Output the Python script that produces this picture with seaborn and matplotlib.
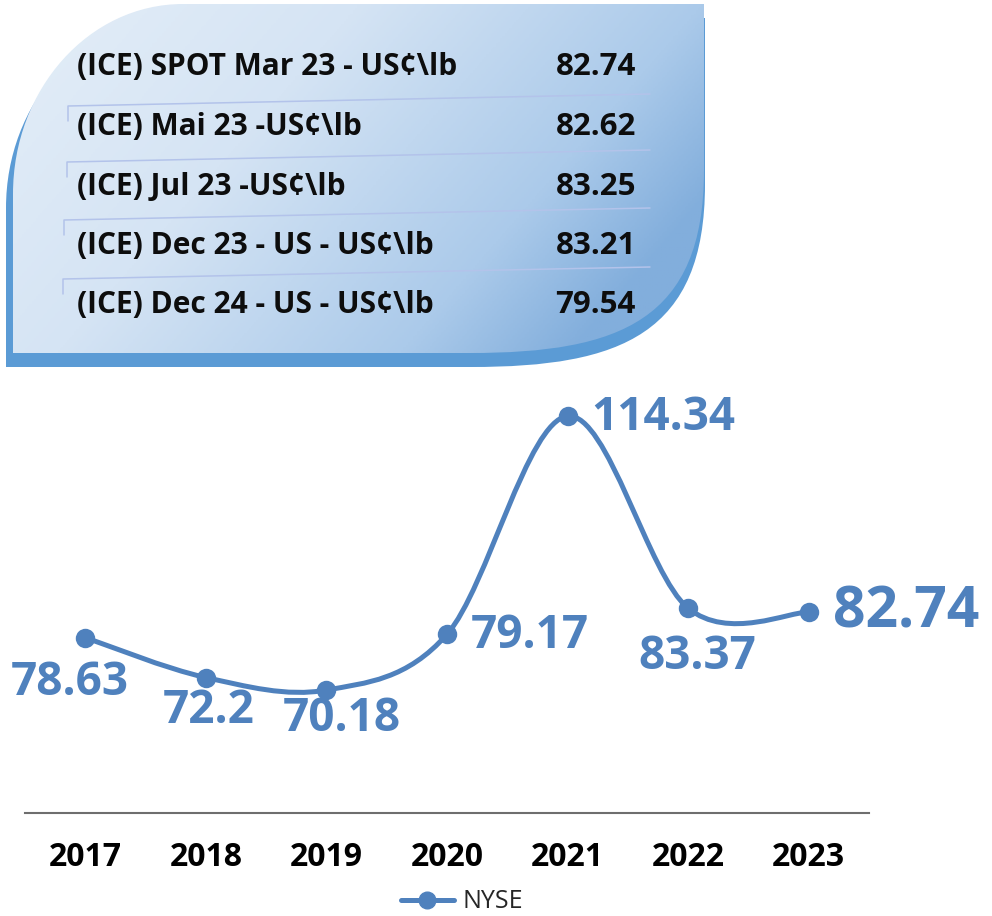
import numpy as np
import pandas as pd
import matplotlib
matplotlib.use("Agg")
import matplotlib.pyplot as plt
import seaborn as sns
from matplotlib.path import Path
from matplotlib.patches import PathPatch
from matplotlib.lines import Line2D
from matplotlib.colors import LinearSegmentedColormap

# --- data ---
years = ["2017", "2018", "2019", "2020", "2021", "2022", "2023"]
nyse = [78.63, 72.2, 70.18, 79.17, 114.34, 83.37, 82.74]
contracts = [
    "(ICE) SPOT Mar 23 - US¢\\lb",
    "(ICE) Mai 23 -US¢\\lb",
    "(ICE) Jul 23 -US¢\\lb",
    "(ICE) Dec 23 - US - US¢\\lb",
    "(ICE) Dec 24 - US - US¢\\lb",
]
contract_prices = ["82.74", "82.62", "83.25", "83.21", "79.54"]

W, H = 992, 916
BLUE = "#4f81bd"

sns.set_theme(style="white")
plt.rcParams["font.family"] = ["Open Sans", "DejaVu Sans"]

fig = plt.figure(figsize=(W / 100, H / 100), dpi=100)

# background axes in pixel coords (y down) for the top panel
bg = fig.add_axes([0, 0, 1, 1])
bg.set_xlim(0, W)
bg.set_ylim(H, 0)
bg.axis("off")


def panel_path(l, t, r, b):
    k = 0.5523
    rx, ry = 170, 190
    verts = [(l, b), (l, t + ry),
             (l, t + ry - k * ry), (l + rx - k * rx, t), (l + rx, t),
             (r, t), (r, b - 183),
             (r, b - 33), (r - 84, b), (r - 234, b),
             (l, b), (l, b)]
    codes = [Path.MOVETO, Path.LINETO,
             Path.CURVE4, Path.CURVE4, Path.CURVE4,
             Path.LINETO, Path.LINETO,
             Path.CURVE4, Path.CURVE4, Path.CURVE4,
             Path.LINETO, Path.CLOSEPOLY]
    return Path(verts, codes)


# shadow
bg.add_patch(PathPatch(panel_path(6, 18, 705, 367), facecolor="#5b9bd5", edgecolor="none"))

# main panel with gradient
l, t, r, b = 13, 4, 704, 353
main = PathPatch(panel_path(l, t, r, b), facecolor="none", edgecolor="none")
bg.add_patch(main)
gx, gy = np.meshgrid(np.linspace(0, 1, 300), np.linspace(0, 1, 200))
grad = np.clip(0.8 * gx + 0.35 * gy, 0, 1)
cmap = LinearSegmentedColormap.from_list(
    "panel", [(0, "#e4eef8"), (0.4, "#d5e4f4"), (0.8, "#abcaea"), (1, "#82aedc")])
im = bg.imshow(grad, cmap=cmap, extent=(l, r, b, t), aspect="auto", vmin=0, vmax=1, zorder=1)
im.set_clip_path(main)

# separators with small left stubs
sep_left = [(68, 106), (67, 162), (64, 220), (63, 279)]
for sx, sy in sep_left:
    bg.plot([sx, sx, 650], [sy + 15, sy, sy - 12], color="#b3c3ea", lw=1.1, zorder=2)

row_y = [67, 127, 187, 246, 305]
for name, price, ry in zip(contracts, contract_prices, row_y):
    bg.text(77, ry, name, fontsize=21.5, fontweight="bold", color="#0d0d0d",
            ha="left", va="center", zorder=3)
    bg.text(636, ry, price, fontsize=22.5, fontweight="bold", color="#0d0d0d",
            ha="right", va="center", zorder=3)

# --- line chart ---
ax = fig.add_axes([25 / W, (H - 813) / H, 844 / W, (813 - 381) / H])
ax.set_facecolor("none")
df = pd.DataFrame({"year": years, "value": nyse})
df["pos"] = np.arange(len(df))

# smooth curve (Catmull-Rom as cubic Bezier through the data points)
xs = df["pos"].to_numpy(dtype=float)
ys = df["value"].to_numpy(dtype=float)
n = len(xs)
pts = np.column_stack([xs, ys])
verts = [tuple(pts[0])]
codes = [Path.MOVETO]
for i in range(n - 1):
    p0 = pts[max(i - 1, 0)]
    p1 = pts[i]
    p2 = pts[i + 1]
    p3 = pts[min(i + 2, n - 1)]
    c1 = p1 + (p2 - p0) / 6
    c2 = p2 - (p3 - p1) / 6
    verts += [tuple(c1), tuple(c2), tuple(p2)]
    codes += [Path.CURVE4] * 3
ax.add_patch(PathPatch(Path(verts, codes), facecolor="none", edgecolor=BLUE,
                       lw=3.6, capstyle="round", zorder=2))

sns.lineplot(data=df, x="pos", y="value", ax=ax, marker="o", linestyle="none",
             markersize=14, color=BLUE, markeredgewidth=0, legend=False, zorder=3)

ax.set_xlim(-0.5, 6.5)
ax.set_ylim(50.36, 120)

# data labels: (dx, dy) in pixels, alignment, font size
label_pos = [(-16, -45, "center", 33), (3, -33, "center", 33), (15, -28, "center", 33),
             (24, -1, "left", 33), (24, -1, "left", 33), (9, -48, "center", 33),
             (24, 0, "left", 41)]
for (px, val), (dx, dy, ha, fs) in zip(zip(xs, ys), label_pos):
    ax.annotate(f"{val:g}", xy=(px, val), xytext=(dx, dy), textcoords="offset pixels",
                ha=ha, va="center", fontsize=fs, fontweight="bold", color=BLUE)

ax.set_xticks(range(len(years)))
ax.set_xticklabels(years, fontsize=23, fontweight="bold", color="#000000")
ax.tick_params(axis="x", length=0, pad=20)
ax.set_yticks([])
ax.set_xlabel("")
ax.set_ylabel("")
for side in ["left", "right", "top"]:
    ax.spines[side].set_visible(False)
ax.spines["bottom"].set_color("#6e6e6e")
ax.spines["bottom"].set_linewidth(1.5)

handle = Line2D([], [], color=BLUE, lw=3.6, marker="o", markersize=12)
fig.legend(handles=[handle], labels=["NYSE"], loc="center",
           bbox_to_anchor=(462 / W, 1 - 902 / H), frameon=False, fontsize=18,
           handlelength=2.1, handletextpad=0.35, labelcolor="#262626",
           borderpad=0.1)

fig.savefig("out.png", dpi=100)
